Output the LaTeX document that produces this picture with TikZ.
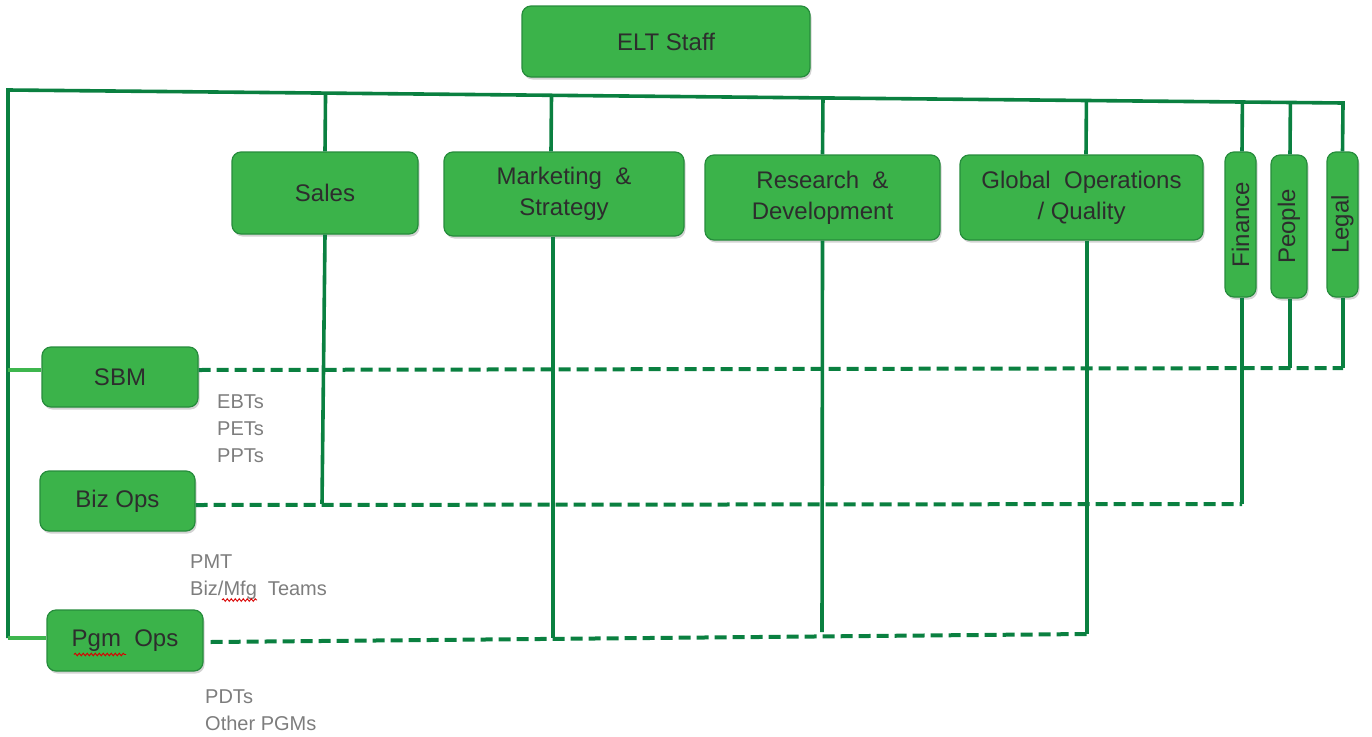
\documentclass[tikz,border=0pt]{standalone}
\usepackage{fontspec}
\setmainfont{Liberation Sans}
\usetikzlibrary{decorations.pathmorphing,shadows,calc}
\definecolor{boxfill}{RGB}{59,179,74}
\definecolor{boxdraw}{RGB}{38,140,60}
\definecolor{linegreen}{RGB}{10,128,64}
\definecolor{lightline}{RGB}{62,182,78}
\definecolor{boxtext}{RGB}{45,45,45}
\definecolor{labelgray}{RGB}{125,125,125}
\begin{document}
\begin{tikzpicture}[x=1pt,y=-1pt,
  unitbox/.style={draw=boxdraw, line width=1.2pt, fill=boxfill, rounded corners=9pt,
    text=boxtext, font=\fontsize{24}{31}\selectfont, align=center, inner sep=0pt,
    drop shadow={shadow xshift=1.5pt, shadow yshift=-2.5pt, opacity=0.35}},
  solidline/.style={draw=linegreen, line width=3.6pt},
  lightlink/.style={draw=lightline, line width=3.6pt},
  dashline/.style={draw=linegreen, line width=4pt, dash pattern=on 12pt off 6pt},
  subtext/.style={text=labelgray, font=\fontsize{20}{27}\selectfont, anchor=base west, inner sep=0pt},
  squiggle/.style={draw=red!85!black, line width=0.9pt, decorate,
    decoration={snake, segment length=4pt, amplitude=1.3pt}}]
\useasboundingbox (0,0) rectangle (1372,736);

% boxes
\node[unitbox, minimum width=288pt, minimum height=71pt] (elt) at (666,41.5) {ELT Staff};
\node[unitbox, minimum width=186pt, minimum height=82pt] (sales) at (325,193) {Sales};
\node[unitbox, minimum width=240pt, minimum height=84pt] (mkt) at (564,194) {Marketing~~\&\\Strategy};
\node[unitbox, minimum width=235pt, minimum height=85pt] (rd) at (822.5,197.5) {Research~~\&\\Development};
\node[unitbox, minimum width=243pt, minimum height=85pt] (gops) at (1081.5,197.5) {Global~~Operations\\/~Quality};
\node[unitbox, minimum width=31pt, minimum height=145pt] (fin) at (1240.5,224.5) {\rotatebox{90}{Finance}};
\node[unitbox, minimum width=36pt, minimum height=143pt] (ppl) at (1289,226.5) {\rotatebox{90}{People}};
\node[unitbox, minimum width=31pt, minimum height=145pt] (legal) at (1342.5,224.5) {\rotatebox{90}{Legal}};
\node[unitbox, minimum width=156pt, minimum height=60pt] (sbm) at (120,377) {SBM};
\node[unitbox, minimum width=155pt, minimum height=60pt] (biz) at (117.5,501) {Biz~Ops};
\node[unitbox, minimum width=156pt, minimum height=61pt] (pgm) at (125,640.5) {Pgm~~Ops};

% coordinates of the bus and line ends
\coordinate (busL) at (8,90);
\coordinate (busR) at (1343,103);
\coordinate (leftcorner) at (8,638);
\coordinate (salesend) at (322,504);
\coordinate (mktend) at (553,638);
\coordinate (rdend) at (822,632);
\coordinate (gopsend) at (1087,634);
\coordinate (finend) at (1242,504);
\coordinate (pplend) at (1290,368);
\coordinate (legalend) at (1343,368);

% main bus
\draw[solidline, line join=miter] (leftcorner) -- (busL) -- (busR) -- (legal.north);
\draw[lightlink] (leftcorner) -- (pgm.west |- leftcorner);
\draw[lightlink] ([yshift=7pt]sbm.west) -- (8,370);

% drops from the bus
\draw[solidline] (sales.north) -- ($(busL)!(sales.north)!(busR)$);
\draw[solidline] ([xshift=-13pt]mkt.north) -- ($(busL)!([xshift=-13pt]mkt.north)!(busR)$);
\draw[solidline] (rd.north) -- ($(busL)!(rd.north)!(busR)$);
\draw[solidline] ([xshift=4.5pt]gops.north) -- ($(busL)!([xshift=4.5pt]gops.north)!(busR)$);
\draw[solidline] ([xshift=1.5pt]fin.north) -- ($(busL)!([xshift=1.5pt]fin.north)!(busR)$);
\draw[solidline] ([xshift=1pt]ppl.north) -- ($(busL)!([xshift=1pt]ppl.north)!(busR)$);

% lines below the units
\draw[solidline] (sales.south) -- (salesend);
\draw[solidline] ([xshift=-11pt]mkt.south) -- (mktend);
\draw[solidline] (rd.south) -- (rdend);
\draw[solidline] ([xshift=5.5pt]gops.south) -- (gopsend);
\draw[solidline] ([xshift=1.5pt]fin.south) -- (finend);
\draw[solidline] ([xshift=1pt]ppl.south) -- (pplend);
\draw[solidline] ([xshift=0.5pt]legal.south) -- (legalend);

% dashed links
\draw[dashline] ([yshift=7pt]sbm.east) -- (legalend);
\draw[dashline] ([yshift=-4pt]biz.east) -- (finend);
\draw[dashline] ([xshift=7pt,yshift=-1.5pt]pgm.east) -- (gopsend);

% sub-labels
\node[subtext] (ebts) at (217,408) {EBTs};
\node[subtext] (pets) at (217,435) {PETs};
\node[subtext] (ppts) at (217,462) {PPTs};
\node[subtext] (pmt) at (190,568) {PMT};
\node[subtext] (bizmfg) at (190,595) {Biz/Mfg~~Teams};
\node[subtext] (pdts) at (205,703) {PDTs};
\node[subtext] (others) at (205,730) {Other PGMs};

% spell-check squiggles
\draw[squiggle] (222,600) -- (257,600);
\draw[squiggle] (74,654.5) -- (126,654.5);
\end{tikzpicture}
\end{document}
